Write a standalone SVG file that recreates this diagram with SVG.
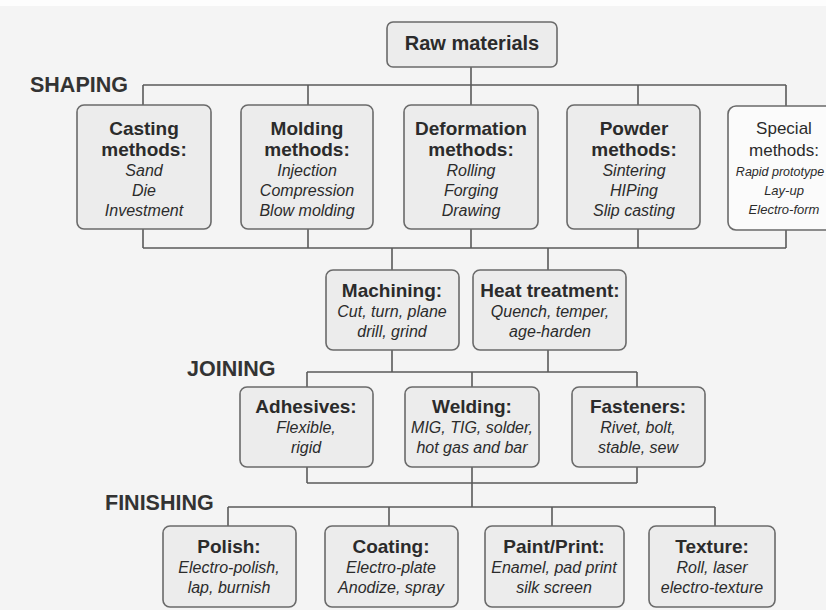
<svg xmlns="http://www.w3.org/2000/svg" width="826" height="610" viewBox="0 0 826 610">
  <style>
    .box { fill: #ececec; stroke: #6a6a6a; stroke-width: 1.6; }
    .box-plain { fill: #fbfbfb; stroke: #6a6a6a; stroke-width: 1.6; }
    .wire { fill: none; stroke: #5a5a5a; stroke-width: 1.6; }
    text { font-family: "Liberation Sans", Arial, sans-serif; fill: #2b2b2b; text-anchor: middle; }
    .head { font-size: 19px; font-weight: bold; }
    .item { font-size: 16px; font-style: italic; }
    .stage { font-size: 21.5px; font-weight: bold; text-anchor: start; fill: #333; }
    .special-head { font-size: 17px; }
    .special-item { font-size: 13px; font-style: italic; }
  </style>

  <!-- paper -->
  <rect x="0" y="0" width="826" height="610" fill="#f4f4f4"/>
  <rect x="0" y="0" width="826" height="6" fill="#fdfdfd"/>

  <!-- stage labels -->
  <text class="stage" x="30" y="92">SHAPING</text>
  <text class="stage" x="187" y="376">JOINING</text>
  <text class="stage" x="105" y="510">FINISHING</text>

  <!-- connectors -->
  <g id="connectors">
    <path class="wire" d="M471 67 V85 M143 85 H786 M143 85 V105 M308 85 V105 M471 85 V105 M638 85 V105 M786 85 V106"/>
    <path class="wire" d="M143 229 V248 M308 229 V248 M471 229 V248 M638 229 V248 M786 230 V248 M143 248 H786"/>
    <path class="wire" d="M392 248 V270 M548 248 V270"/>
    <path class="wire" d="M392 350 V372 M548 350 V372 M307 372 H637 M307 372 V387 M472 372 V387 M637 372 V387"/>
    <path class="wire" d="M307 467 V483 M472 467 V483 M637 467 V483 M307 483 H637 M472 483 V507"/>
    <path class="wire" d="M228 507 H715 M228 507 V526 M389 507 V526 M552 507 V526 M715 507 V526"/>
  </g>

  <!-- source -->
  <g id="raw-materials">
    <rect class="box" x="387" y="22" width="170" height="45" rx="6"/>
    <text class="head" x="472" y="50" style="font-size:20px">Raw materials</text>
  </g>

  <!-- shaping -->
  <g id="casting">
    <rect class="box" x="77" y="105" width="134" height="124" rx="7"/>
    <text class="head" x="144" y="135">Casting</text>
    <text class="head" x="144" y="156">methods:</text>
    <text class="item" x="144" y="176">Sand</text>
    <text class="item" x="144" y="196">Die</text>
    <text class="item" x="144" y="216">Investment</text>
  </g>
  <g id="molding">
    <rect class="box" x="241" y="105" width="132" height="124" rx="7"/>
    <text class="head" x="307" y="135">Molding</text>
    <text class="head" x="307" y="156">methods:</text>
    <text class="item" x="307" y="176">Injection</text>
    <text class="item" x="307" y="196">Compression</text>
    <text class="item" x="307" y="216">Blow molding</text>
  </g>
  <g id="deformation">
    <rect class="box" x="404" y="105" width="134" height="124" rx="7"/>
    <text class="head" x="471" y="135">Deformation</text>
    <text class="head" x="471" y="156">methods:</text>
    <text class="item" x="471" y="176">Rolling</text>
    <text class="item" x="471" y="196">Forging</text>
    <text class="item" x="471" y="216">Drawing</text>
  </g>
  <g id="powder">
    <rect class="box" x="567" y="105" width="133" height="124" rx="7"/>
    <text class="head" x="634" y="135">Powder</text>
    <text class="head" x="634" y="156">methods:</text>
    <text class="item" x="634" y="176">Sintering</text>
    <text class="item" x="634" y="196">HIPing</text>
    <text class="item" x="634" y="216">Slip casting</text>
  </g>
  <g id="special">
    <rect class="box-plain" x="728" y="106" width="112" height="124" rx="8"/>
    <text class="special-head" x="784" y="134">Special</text>
    <text class="special-head" x="784" y="156">methods:</text>
    <text class="special-item" x="780" y="176" style="font-size:12.5px">Rapid prototype</text>
    <text class="special-item" x="784" y="195">Lay-up</text>
    <text class="special-item" x="784" y="214">Electro-form</text>
  </g>

  <!-- processing -->
  <g id="machining">
    <rect class="box" x="326" y="270" width="133" height="80" rx="7"/>
    <text class="head" x="392" y="297">Machining:</text>
    <text class="item" x="392" y="317">Cut, turn, plane</text>
    <text class="item" x="392" y="337">drill, grind</text>
  </g>
  <g id="heat-treatment">
    <rect class="box" x="473" y="270" width="153" height="80" rx="7"/>
    <text class="head" x="550" y="297">Heat treatment:</text>
    <text class="item" x="550" y="317">Quench, temper,</text>
    <text class="item" x="550" y="337">age-harden</text>
  </g>

  <!-- joining -->
  <g id="adhesives">
    <rect class="box" x="240" y="387" width="133" height="80" rx="7"/>
    <text class="head" x="306" y="413">Adhesives:</text>
    <text class="item" x="306" y="433">Flexible,</text>
    <text class="item" x="306" y="453">rigid</text>
  </g>
  <g id="welding">
    <rect class="box" x="405" y="387" width="134" height="80" rx="7"/>
    <text class="head" x="472" y="413">Welding:</text>
    <text class="item" x="472" y="433">MIG, TIG, solder,</text>
    <text class="item" x="472" y="453">hot gas and bar</text>
  </g>
  <g id="fasteners">
    <rect class="box" x="572" y="387" width="133" height="80" rx="7"/>
    <text class="head" x="638" y="413">Fasteners:</text>
    <text class="item" x="638" y="433">Rivet, bolt,</text>
    <text class="item" x="638" y="453">stable, sew</text>
  </g>

  <!-- finishing -->
  <g id="polish">
    <rect class="box" x="163" y="526" width="133" height="81" rx="7"/>
    <text class="head" x="229" y="553">Polish:</text>
    <text class="item" x="229" y="573">Electro-polish,</text>
    <text class="item" x="229" y="593">lap, burnish</text>
  </g>
  <g id="coating">
    <rect class="box" x="325" y="526" width="133" height="81" rx="7"/>
    <text class="head" x="391" y="553">Coating:</text>
    <text class="item" x="391" y="573">Electro-plate</text>
    <text class="item" x="391" y="593">Anodize, spray</text>
  </g>
  <g id="paint-print">
    <rect class="box" x="485" y="526" width="139" height="81" rx="7"/>
    <text class="head" x="554" y="553">Paint/Print:</text>
    <text class="item" x="554" y="573">Enamel, pad print</text>
    <text class="item" x="554" y="593">silk screen</text>
  </g>
  <g id="texture">
    <rect class="box" x="649" y="526" width="126" height="81" rx="7"/>
    <text class="head" x="712" y="553">Texture:</text>
    <text class="item" x="712" y="573">Roll, laser</text>
    <text class="item" x="712" y="593">electro-texture</text>
  </g>
</svg>
